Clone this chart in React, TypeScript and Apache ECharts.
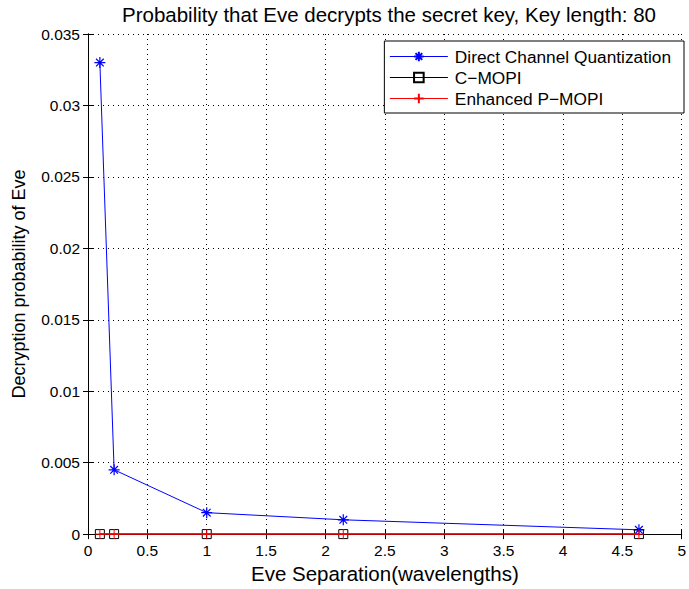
import React, { useEffect, useRef } from "react";
import * as echarts from "echarts";

// Eve's separation from the legitimate node, in wavelengths
const separation = [0.1, 0.22, 1, 2.15, 4.64];
// Probability that Eve recovers the 80-bit key
const directQuantization = [0.033, 0.0045, 0.0015, 0.001, 0.0003];
const cMopi = [0, 0, 0, 0, 0];
const enhancedPMopi = [0, 0, 0, 0, 0];

const seriesNames = ["Direct Channel Quantization", "C\u2212MOPI", "Enhanced P\u2212MOPI"];

const FONT = "'Liberation Sans', Arial, Helvetica, sans-serif";

// Marker shapes drawn as stroked paths
const ASTERISK = "path://M5,0L5,10M0,5L10,5M1.5,1.5L8.5,8.5M1.5,8.5L8.5,1.5";
const PLUS = "path://M5,0L5,10M0,5L10,5";

const pairs = (ys: number[]) => separation.map((x, i) => [x, ys[i]]);

export default function App() {
  const ref = useRef<HTMLDivElement>(null);

  useEffect(() => {
    if (!ref.current) return;
    const chart = echarts.init(ref.current, undefined, { renderer: "svg" });

    const gridDots = { show: true, lineStyle: { color: "#000", width: 1, type: [1, 4] as number[] } };
    const innerTick = { show: true, inside: true, length: 5, lineStyle: { color: "#000" } };
    const frame = { show: true, lineStyle: { color: "#000", width: 1 } };

    chart.setOption({
      animation: false,
      backgroundColor: "#fff",
      textStyle: { fontFamily: FONT },
      title: {
        text: "Probability that Eve decrypts the secret key, Key length: 80",
        left: 384,
        top: -1,
        textAlign: "center",
        textStyle: { fontFamily: FONT, fontSize: 20.5, fontWeight: "normal", color: "#000" },
      },
      grid: { left: 88, right: 5, top: 34, bottom: 53, containLabel: false },
      legend: {
        orient: "vertical",
        right: 5,
        top: 41,
        data: seriesNames,
        itemWidth: 58,
        itemHeight: 12,
        itemGap: 4,
        padding: [7, 13, 6, 5],
        borderColor: "#000",
        borderWidth: 1,
        backgroundColor: "#fff",
        borderRadius: 0,
        lineStyle: { width: 1 },
        textStyle: { fontFamily: FONT, fontSize: 17.3, color: "#000", padding: [0, 0, 0, 2] },
      },
      xAxis: [
        {
          type: "value",
          min: 0,
          max: 5,
          interval: 0.5,
          name: "Eve Separation(wavelengths)",
          nameLocation: "middle",
          nameGap: 27,
          nameTextStyle: { fontFamily: FONT, fontSize: 20.5, color: "#000" },
          axisLine: frame,
          axisTick: innerTick,
          axisLabel: { color: "#000", fontSize: 15.5, fontFamily: FONT, margin: 8 },
          splitLine: gridDots,
        },
        {
          type: "value",
          position: "top",
          min: 0,
          max: 5,
          interval: 0.5,
          axisLine: frame,
          axisTick: innerTick,
          axisLabel: { show: false },
          splitLine: { show: false },
        },
      ],
      yAxis: [
        {
          type: "value",
          min: 0,
          max: 0.035,
          interval: 0.005,
          name: "Decryption probability of Eve",
          nameLocation: "middle",
          nameGap: 60,
          nameTextStyle: { fontFamily: FONT, fontSize: 18, color: "#000" },
          axisLine: frame,
          axisTick: innerTick,
          axisLabel: { color: "#000", fontSize: 15.5, fontFamily: FONT, margin: 8 },
          splitLine: gridDots,
        },
        {
          type: "value",
          position: "right",
          min: 0,
          max: 0.035,
          interval: 0.005,
          axisLine: frame,
          axisTick: innerTick,
          axisLabel: { show: false },
          splitLine: { show: false },
        },
      ],
      series: [
        {
          name: seriesNames[0],
          type: "line",
          data: pairs(directQuantization),
          symbol: ASTERISK,
          symbolSize: 11,
          showAllSymbol: true,
          clip: false,
          z: 3,
          lineStyle: { color: "#0000ff", width: 1 },
          itemStyle: { color: "#0000ff", borderColor: "#0000ff", borderWidth: 1.2 },
        },
        {
          name: seriesNames[1],
          type: "line",
          data: pairs(cMopi),
          symbol: "rect",
          symbolSize: 9,
          showAllSymbol: true,
          clip: false,
          z: 4,
          lineStyle: { color: "#000", width: 1 },
          itemStyle: { color: "transparent", borderColor: "#000", borderWidth: 1 },
        },
        {
          name: seriesNames[2],
          type: "line",
          data: pairs(enhancedPMopi),
          symbol: PLUS,
          symbolSize: 10,
          showAllSymbol: true,
          clip: false,
          z: 5,
          lineStyle: { color: "#ff0000", width: 1.5 },
          itemStyle: { color: "#ff0000", borderColor: "#ff0000", borderWidth: 1 },
        },
      ],
    });

    return () => chart.dispose();
  }, []);

  return (
    <div
      ref={ref}
      style={{ position: "fixed", left: 0, top: 0, width: 689, height: 589, background: "#fff" }}
    />
  );
}
